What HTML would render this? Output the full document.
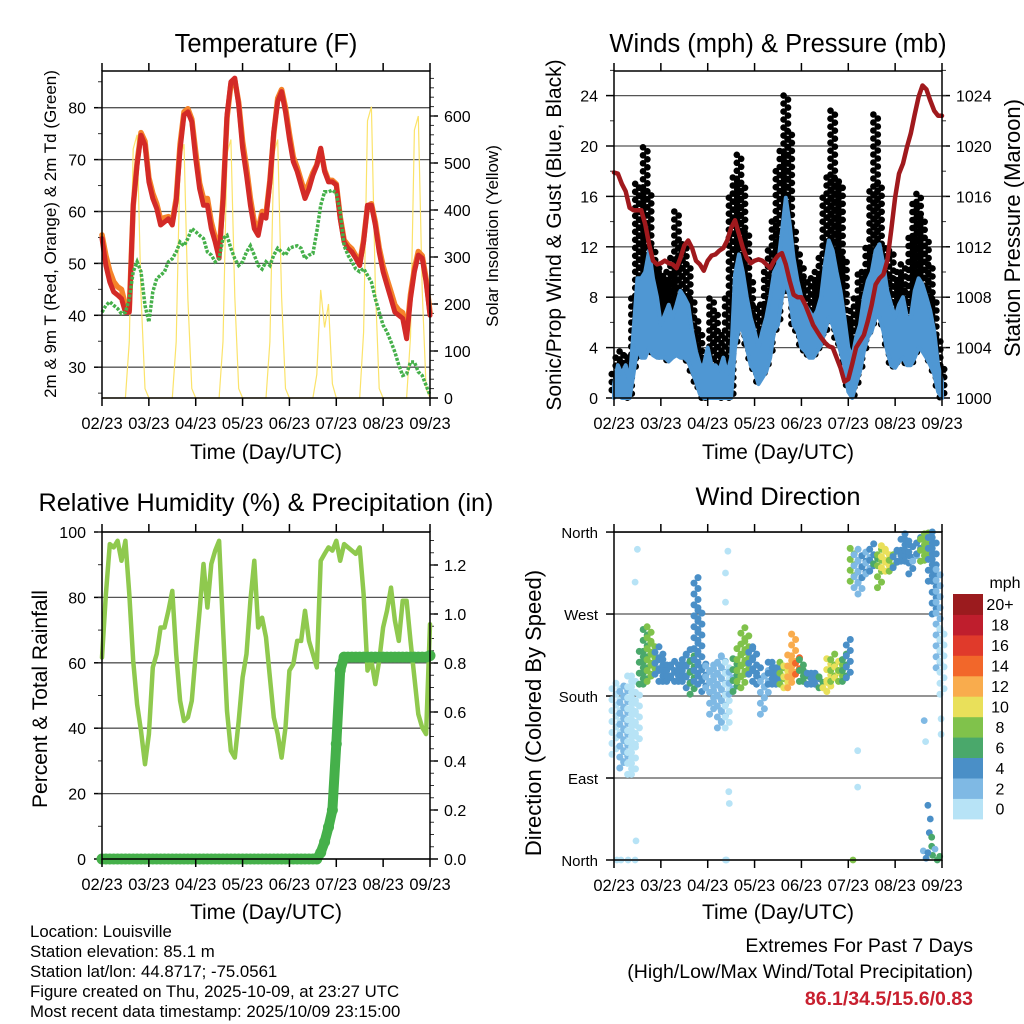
<!DOCTYPE html>
<html><head><meta charset="utf-8"><title>Station Meteogram</title>
<style>
html,body{margin:0;padding:0;background:#fff;}
svg{display:block;font-family:"Liberation Sans",Arial,sans-serif;}
</style></head>
<body>
<svg id="chart" width="1024" height="1024" viewBox="0 0 1024 1024" xmlns="http://www.w3.org/2000/svg">
<rect x="0" y="0" width="1024" height="1024" fill="#fff"/>
<g id="layer"></g>
<text x="266" y="52" font-size="25.5" text-anchor="middle">Temperature (F)</text>
<text x="778" y="52" font-size="25.5" text-anchor="middle">Winds (mph) &amp; Pressure (mb)</text>
<text x="266" y="511" font-size="25.2" text-anchor="middle">Relative Humidity (%) &amp; Precipitation (in)</text>
<text x="778" y="505" font-size="25.4" text-anchor="middle">Wind Direction</text>
<text x="266" y="459" font-size="21" text-anchor="middle">Time (Day/UTC)</text>
<text x="778" y="459" font-size="21" text-anchor="middle">Time (Day/UTC)</text>
<text x="266" y="919" font-size="21" text-anchor="middle">Time (Day/UTC)</text>
<text x="778" y="919" font-size="21" text-anchor="middle">Time (Day/UTC)</text>
<text x="56" y="234" font-size="17" text-anchor="middle" transform="rotate(-90 56 234)">2m &amp; 9m T (Red, Orange) &amp; 2m Td (Green)</text>
<text x="498" y="236" font-size="17" text-anchor="middle" transform="rotate(-90 498 236)">Solar Insolation (Yellow)</text>
<text x="561" y="235" font-size="21" text-anchor="middle" transform="rotate(-90 561 235)">Sonic/Prop Wind &amp; Gust (Blue, Black)</text>
<text x="1020" y="228" font-size="22" text-anchor="middle" transform="rotate(-90 1020 228)">Station Pressure (Maroon)</text>
<text x="47" y="699" font-size="21" text-anchor="middle" transform="rotate(-90 47 699)">Percent &amp; Total Rainfall</text>
<text x="541" y="713" font-size="22" text-anchor="middle" transform="rotate(-90 541 713)">Direction (Colored By Speed)</text>
<g font-size="16.8">
<text x="30" y="937">Location: Louisville</text>
<text x="30" y="957">Station elevation: 85.1 m</text>
<text x="30" y="977">Station lat/lon: 44.8717; -75.0561</text>
<text x="30" y="997">Figure created on Thu, 2025-10-09, at 23:27 UTC</text>
<text x="30" y="1017">Most recent data timestamp: 2025/10/09 23:15:00</text>
</g>
<text x="973" y="952" font-size="19.5" text-anchor="end">Extremes For Past 7 Days</text>
<text x="973" y="978" font-size="19.5" text-anchor="end">(High/Low/Max Wind/Total Precipitation)</text>
<text x="973" y="1005" font-size="19.5" font-weight="bold" fill="#c8202f" text-anchor="end">86.1/34.5/15.6/0.83</text>
<text x="1005" y="588" font-size="16" text-anchor="middle">mph</text>
</svg>
<script>
// ---------- data (2-hour steps, 85 samples over 7 days) ----------
const dayLabels = ['02/23','03/23','04/23','05/23','06/23','07/23','08/23','09/23'];
const tempRed = [54.8,49.6,46.4,44.5,43.9,43.2,40.6,40.6,61.2,69,
74.7,72.8,65.7,62.5,60.6,57.4,58,58.6,57.4,62,
72,78.6,79.2,77.3,70.2,64.4,61.2,61.2,56.7,54.1,
51,62,78.6,85,85.7,80.5,72.2,67,61.2,56.7,
55.4,59.3,58.7,65.7,75.4,81.2,83.1,79.2,74,69.6,
67.7,65.1,62.5,64.4,67,68.9,72.2,67.7,65.7,65.7,
65.1,58.6,54.1,52.9,52.2,51,49.6,54.1,61.2,61.2,
57.4,52.2,48.4,45.8,43.2,40.6,40,39.4,35.5,43.2,
48.4,51.6,51,46.4,40];
const tempOrange = [55.5,51.5,48.5,46.5,45.5,45,42,41,61,69.5,
75.2,73.5,66.5,63.5,61.5,58.5,58.8,59,58,62.5,
73,79.2,79.8,77.8,71.5,65.5,62.5,62.5,58,55,
52,62.5,78,84.5,85.3,81,73.5,68.5,62.5,58,
56.5,60,59.5,66,75,81.8,83.5,80,75,70.5,
68.5,66,63.5,65.5,67.5,69,72,68,66,66,
65.3,59,54.5,53.5,52.8,51.5,50,54.5,61,61.5,
58,53,49.5,47,44.5,42,41,40.5,36.5,44,
49,52.3,51.5,47,40.5];
const dewGreen = [40.6,41.9,42.6,41.9,41.3,40.3,40.6,43.2,48.4,50.3,
48.4,41.9,38.7,44.5,47.1,47.7,48.4,50.3,50.9,52.2,
54.1,53.4,54.8,56.7,56.1,55.4,54.8,52.2,51.6,50.3,
50.9,54.8,55.4,52.9,50.9,49.6,50.3,52.2,53.4,51.6,
49.6,48.9,50.3,49.6,51.6,52.9,52.2,51.6,52.9,53.2,
53.4,52.9,50.9,51.6,51.9,56.1,61.2,63.8,63.8,64.1,
63.5,59.9,53.4,51.6,50.3,48.9,48.4,49,47.7,46.4,
43.2,40.6,38.1,36.8,34.9,32.9,30.4,28.4,28.7,31,
31,29.1,28.4,26.5,24.6];
const solar = [0,0,0,0,0,0,0,120,530,560,220,20,
0,0,0,0,0,0,0,120,510,540,210,20,
0,0,0,0,0,0,0,120,520,550,215,20,
0,0,0,0,0,0,0,120,520,550,215,20,
0,0,0,0,0,0,0,50,230,150,200,30,
0,0,0,0,0,0,0,140,590,620,240,20,
0,0,0,0,0,0,0,130,570,600,230,20,
0];
const pressure = [1017.9,1017.8,1017.0,1016.4,1015.1,1014.9,1014.9,1014.9,1013.8,1012.2,
1010.9,1010.6,1010.7,1010.9,1010.7,1010.6,1010.3,1011.1,1012.1,1012.5,
1011.9,1010.9,1010.6,1010.1,1010.9,1011.3,1011.4,1011.7,1011.9,1012.5,
1013.5,1014.1,1013.0,1011.9,1011.1,1010.7,1010.9,1011.0,1010.9,1010.6,
1010.3,1010.9,1011.3,1011.5,1010.6,1009.3,1008.2,1008.0,1008.0,1007.4,
1006.6,1005.8,1005.3,1004.8,1004.4,1004.1,1004.0,1003.2,1002.4,1001.3,
1001.5,1002.7,1004.0,1004.5,1005.0,1006.1,1007.4,1009.0,1009.5,1009.8,
1010.9,1013.3,1015.9,1017.8,1018.6,1019.9,1021.0,1022.5,1023.9,1024.8,
1024.5,1023.6,1022.8,1022.4,1022.4];
const windHigh = [1.1,2.6,1.9,2.6,1.3,5.3,9.5,9.5,10,11.7,
9.5,8,5.8,6.6,7.4,6.4,7.4,8.5,8,7.4,
5.3,3.7,2.6,2.6,4,2.6,2.6,2.2,3.2,1.9,
3.2,9.8,11.4,10,8,6.4,5.3,4,5.3,6.4,
8,10,10.6,13.2,15.9,13.8,11.1,9.3,8,7.4,
6.9,6.4,6.9,8,10.6,12.5,11.7,10,8.5,6.4,
4,3.2,4.8,5.8,8,9.3,10,11.7,12.2,10.6,
8.5,7.4,6.4,7.4,8,6.4,6.4,8.5,9.5,9,
8,6.9,5.3,2.6,1.3];
const windLow = [0,0.3,0,0,0,1.9,4,3.2,3.2,4,
3.4,3.2,3.2,3.2,2.9,3.2,3.4,3.2,3.2,2.9,
2.1,1.3,0.3,0,0,0,0,0,0,0,
0,4,5.6,5.3,4,2.6,2.1,1.1,1.6,2.1,
3.2,5.3,5.8,8,9.3,8,5.8,5.3,4,3.7,
3.2,3.2,3.7,4.2,5.3,6.4,5.8,4.8,3.7,2.6,
0.5,0,1.1,2.1,3.7,4.8,5.3,6.4,6.4,5.3,
3.7,2.6,2.4,2.9,3.2,2.6,2.6,3.2,4,3.7,
3.2,2.6,1.9,0.5,0];
const gustHigh = [1.9,3.2,3.7,3.4,3.2,7.9,17,16.7,19.9,16.4,
11.9,10.6,10,9.5,10,11.1,14.8,12.5,12.2,10.6,
7.9,6.4,5.3,3.2,3.2,7.9,6.9,5.3,3.2,7.9,
15.9,17.5,19.3,17,13.2,9.5,7.4,6.4,7.4,10,
11.7,14,18,19.6,24,21.2,13.5,11.7,10.6,9.5,
7.9,9.5,10,11.1,15.9,17.5,22.8,17.5,17,11.1,
6.1,6.9,7.9,9.8,10,11.9,16.4,22.5,17,12.2,
10,11.7,9.5,10,10.6,8.5,12.7,15.4,16.2,14.3,
12.7,10.6,7.9,4.8,2.6];
const rhPct = [61.6,81,96.3,95.3,97.3,91.2,97.3,81,60.6,47.3,
39.2,29,38.2,58.6,62.7,70.8,70.8,75.9,82,62.7,
48.4,42.2,43.3,48.4,62.7,75.9,90.2,76.9,90.2,94.3,
97.3,70.8,45.3,33.1,31,42.2,55.5,62.7,79,91.2,
70.8,73.8,67.8,55.5,43.3,38.2,31,40.2,57.6,59.6,
66.7,66.7,75.9,66.7,62.7,58.6,91.2,93.3,95.3,94.3,
97.3,91.2,96.3,95.3,94.3,93.3,95.3,81,57.6,60.6,
53.5,60.6,70.8,75.9,83,72.9,66.7,79,79,66.7,
55.5,44.3,40.2,38.2,71.8];
const precipIn = [0,0,0,0,0,0,0,0,0,0,
0,0,0,0,0,0,0,0,0,0,
0,0,0,0,0,0,0,0,0,0,
0,0,0,0,0,0,0,0,0,0,
0,0,0,0,0,0,0,0,0,0,
0,0,0,0,0,0,0.026,0.07,0.13,0.2,
0.47,0.77,0.824,0.824,0.824,0.824,0.824,0.824,0.824,0.824,
0.824,0.824,0.824,0.824,0.824,0.824,0.824,0.824,0.824,0.824,
0.824,0.824,0.824,0.824,0.83];
const dirLow = [116,134,101,108,94,94,127,193,193,196,
204,204,196,196,196,200,196,196,196,189,
182,196,193,185,189,160,174,145,152,145,
182,185,196,189,204,204,196,193,160,178,
193,193,193,193,189,189,200,204,196,196,
193,193,193,189,189,185,196,200,196,196,
200,306,299,292,310,314,317,325,299,321,
317,317,321,328,328,328,314,328,336,328,
329,306,270,211,182];
const dirHigh = [196,193,196,189,204,204,182,229,255,259,
240,237,226,222,218,218,218,218,226,233,
229,314,281,218,218,215,218,226,226,218,
211,226,233,255,248,237,233,211,204,211,
222,222,211,218,218,226,248,226,222,211,
207,207,207,204,196,226,226,218,218,226,
244,343,343,336,336,343,347,336,343,347,
343,336,343,340,358,354,354,336,354,358,
362,362,354,319,255];
const dirSpeed = [1,1,2,2,1,1,1,7,7,8,
8,5,4,4,4,5,5,4,5,5,
6,5,5,4,3,2,3,2,2,1,
2,6,8,8,9,5,4,4,3,3,
4,4,5,9,11,13,13,14,7,6,
5,5,5,6,10,10,8,11,8,6,
4,8,3,2,4,3,4,6,8,10,
10,9,4,4,4,4,4,3,4,8,
8,5,4,2,1];
const outDay = [0.06,0.15,0.3,0.45,0.5,0.45,0.47,2.38,2.4,2.43,2.38,2.38,2.45,2.46,5.1,5.2,5.2,6.62,6.65,6.7,6.75,6.78,6.8,6.73,6.6,6.78,6.98,6.98,6.66,6.7,6.85,6.9,6.95];
const outDir = [0,0,0,0,341,305,21,0,0,339,315,283,75,62,0,120,80,153,130,60,45,15,5,30,10,25,155,138,2,8,12,0,4];
const outSpeed = [1,1,1,1,1,1,1,1,1,1,1,1,1,1,8,1,1,3,1,4,5,6,6,4,3,6,1,1,4,5,2,6,6];
const barLabels = ['0','2','4','6','8','10','12','14','16','18','20+'];
const barColors = ['#b7e3f6','#7fb9e4','#4a8fc7','#4aa86b','#80c24b','#e9e05a','#f9ac4d','#f2672a','#e03a2b','#bf1e2d','#9b1b1e'];

// ---------- helpers ----------
const NS = 'http://www.w3.org/2000/svg';
const layer = document.getElementById('layer');
function mk(tag, attrs, parent){
  const e = document.createElementNS(NS, tag);
  for (const k in attrs) e.setAttribute(k, attrs[k]);
  (parent || layer).appendChild(e);
  return e;
}
const STEP = 1/12;
function makeX(x0, x1){ return d => x0 + d*(x1-x0)/7; }
function pathFrom(vals, xf, yf){
  let s = '';
  vals.forEach((v,i) => { s += (i ? 'L' : 'M') + xf(i*STEP).toFixed(1) + ' ' + yf(v).toFixed(1); });
  return s;
}
function speedColor(s){ return barColors[Math.min(10, Math.max(0, Math.floor(s/2)))]; }

function frameAndXAxis(name, x0, x1, y0, y1){
  const xf = makeX(x0, x1);
  dayLabels.forEach((lab, i) => {
    const x = xf(i);
    const t1 = mk('line', {x1:x, y1:y1, x2:x, y2:y1+8, stroke:'#000', 'stroke-width':1.5});
    
    
    const t2 = mk('line', {x1:x, y1:y0, x2:x, y2:y0-8, stroke:'#000', 'stroke-width':1.5});
    
    
    const tx = mk('text', {x:x, y:y1+31, 'font-size':16.5, 'text-anchor':'middle'});
    tx.textContent = lab;
    
    
  });
  const fr = mk('rect', {x:x0, y:y0, width:x1-x0, height:y1-y0, fill:'none', stroke:'#000', 'stroke-width':1.5});
  
  
  return xf;
}
function yAxis(name, vals, labels, yf, xEdge, side, gx0, gx1, grid, fs){
  vals.forEach((v, i) => {
    const y = yf(v);
    if (grid) {
      const g = mk('line', {x1:gx0, y1:y, x2:gx1, y2:y, stroke:'#555', 'stroke-width':1.3});
      
      
    }
    const dx = side === 'left' ? -8 : 8;
    const t = mk('line', {x1:xEdge, y1:y, x2:xEdge+dx, y2:y, stroke:'#000', 'stroke-width':1.5});
    
    
    const tx = mk('text', {x: side === 'left' ? xEdge-16 : xEdge+14, y:y+6, 'font-size':fs||16, 'text-anchor': side === 'left' ? 'end' : 'start'});
    tx.textContent = labels[i];
    
    
  });
}
function minorTicks(name, from, to, step, yf, xEdge, side){
  for (let v = from; v <= to + 1e-9; v += step) {
    const y = yf(v);
    const dx = side === 'left' ? -4 : 4;
    const t = mk('line', {x1:xEdge, y1:y, x2:xEdge+dx, y2:y, stroke:'#333', 'stroke-width':1});
    
    
  }
}

// ---------- Panel 1: temperature ----------
(function(){
  const x0=102, x1=430, y0=71, y1=398;
  const xf = makeX(x0, x1);
  const yT = t => 107.7 + (80 - t)*5.19;
  const yS = s => 398 - s*0.47;
  const tv = [30,40,50,60,70,80];
  yAxis('temperature-y', tv, tv.map(String), yT, x0, 'left', x0, x1, true);
  minorTicks('temperature-y', 25, 85, 5, yT, x0, 'left');
  const sv = [0,100,200,300,400,500,600];
  yAxis('solar-y', sv, sv.map(String), yS, x1, 'right', 0, 0, false);
  minorTicks('solar-y', 20, 680, 20, yS, x1, 'right');
  const sp = mk('path', {d:pathFrom(solar, xf, yS), fill:'none', stroke:'#fbe36a', 'stroke-width':1.2});
  
  
  const op = mk('path', {d:pathFrom(tempOrange, xf, yT), fill:'none', stroke:'#f5832a', 'stroke-width':5.5, 'stroke-linejoin':'round', 'stroke-linecap':'round'});
  
  
  const rp = mk('path', {d:pathFrom(tempRed, xf, yT), fill:'none', stroke:'#d32a27', 'stroke-width':5, 'stroke-linejoin':'round', 'stroke-linecap':'round'});
  
  
  const gp = mk('path', {d:pathFrom(dewGreen, xf, yT), fill:'none', stroke:'#45b04a', 'stroke-width':3.5, 'stroke-dasharray':'3 1.5'});
  
  
  frameAndXAxis('temperature', x0, x1, y0, y1);
})();

// ---------- Panel 2: winds & pressure ----------
(function(){
  const x0=614, x1=942, y0=71, y1=398;
  const xf = makeX(x0, x1);
  const yW = w => 398 - w*12.6;
  const yP = p => 398 - (p-1000)*12.6;
  const wv = [0,4,8,12,16,20,24];
  yAxis('wind-y', wv, wv.map(String), yW, x0, 'left', x0, x1, true);
  minorTicks('wind-y', 2, 26, 4, yW, x0, 'left');
  const pv = [1000,1004,1008,1012,1016,1020,1024];
  yAxis('pressure-y', pv, pv.map(String), yP, x1, 'right', 0, 0, false);
  minorTicks('pressure-y', 1002, 1026, 2, yP, x1, 'right');
  gustHigh.forEach((g, i) => {
    const x = xf(i*STEP);
    const top = yW(g), bot = yW(windLow[i]);
    let n = 0;
    for (let y = top; y <= bot; y += 4) {
      const c = mk('circle', {cx:(x + (n%2 ? 2.2 : -2.2)).toFixed(1), cy:y.toFixed(1), r:3.3, fill:'#000'});
      
      
      n++;
    }
  });
  let d = '';
  windHigh.forEach((v,i) => { d += (i ? 'L' : 'M') + xf(i*STEP).toFixed(1) + ' ' + yW(v).toFixed(1); });
  for (let i = windLow.length-1; i >= 0; i--) d += 'L' + xf(i*STEP).toFixed(1) + ' ' + yW(windLow[i]).toFixed(1);
  d += 'Z';
  const wb = mk('path', {d:d, fill:'#4f97d3', stroke:'#4f97d3', 'stroke-width':4, 'stroke-linejoin':'round'});
  
  
  const pp = mk('path', {d:pathFrom(pressure, xf, yP), fill:'none', stroke:'#a0191d', 'stroke-width':4.5, 'stroke-linejoin':'round', 'stroke-linecap':'round'});
  
  
  frameAndXAxis('winds', x0, x1, y0, y1);
})();

// ---------- Panel 3: humidity & precipitation ----------
(function(){
  const x0=102, x1=430, y0=532, y1=859;
  const xf = makeX(x0, x1);
  const yR = r => 859 - r*3.27;
  const yPr = p => 859 - p*245;
  const rv = [0,20,40,60,80,100];
  yAxis('humidity-y', rv, rv.map(String), yR, x0, 'left', x0, x1, true);
  minorTicks('humidity-y', 10, 100, 10, yR, x0, 'left');
  const prv = [0,0.2,0.4,0.6,0.8,1.0,1.2];
  yAxis('precip-y', prv, prv.map(v => v.toFixed(1)), yPr, x1, 'right', 0, 0, false);
  minorTicks('precip-y', 0.05, 1.3, 0.05, yPr, x1, 'right');
  const rp = mk('path', {d:pathFrom(rhPct, xf, yR), fill:'none', stroke:'#8fc94e', 'stroke-width':4.5, 'stroke-linejoin':'round', 'stroke-linecap':'round'});
  
  
  const pl = mk('path', {d:pathFrom(precipIn, xf, yPr), fill:'none', stroke:'#45b04a', 'stroke-width':10, 'stroke-linejoin':'round', 'stroke-linecap':'round'});
  
  
  precipIn.forEach((p, i) => {
    const c = mk('circle', {cx:xf(i*STEP).toFixed(1), cy:yPr(p).toFixed(1), r:5.5, fill:'#45b04a'});
    
    
  });
  frameAndXAxis('humidity', x0, x1, y0, y1);
})();

// ---------- Panel 4: wind direction ----------
(function(){
  const x0=614, x1=942, y0=532, y1=860;
  const xf = makeX(x0, x1);
  const yD = d => 860 - d*0.911;
  const dv = [0,90,180,270,360];
  yAxis('direction-y', dv, ['North','East','South','West','North'], yD, x0, 'left', x0, x1, true, 15);
  dirLow.forEach((lo, i) => {
    const x = xf(i*STEP);
    const col = speedColor(dirSpeed[i]);
    let n = 0;
    for (let dd = lo; dd <= dirHigh[i] + 0.1; dd += 6) {
      const c = mk('circle', {cx:(x + (n%2 ? 2 : -2)).toFixed(1), cy:yD(Math.min(dd,360)).toFixed(1), r:3.5, fill:col});
      
      
      n++;
    }
  });
  outDay.forEach((d, i) => {
    const c = mk('circle', {cx:xf(d).toFixed(1), cy:yD(outDir[i]).toFixed(1), r:3.4, fill:speedColor(outSpeed[i])});
    
    
  });
  frameAndXAxis('direction', x0, x1, y0, y1);
  const bh = 20.45;
  barColors.forEach((col, i) => {
    const y = 594 + (10 - i)*bh;
    const r = mk('rect', {x:953, y:y.toFixed(1), width:30, height:(bh+0.5).toFixed(1), fill:col});
    
    
    const t = mk('text', {x:1000, y:(y + bh/2 + 6).toFixed(1), 'font-size':16, 'text-anchor':'middle'});
    t.textContent = barLabels[i];
    
    
  });
})();
</script>
</body></html>
